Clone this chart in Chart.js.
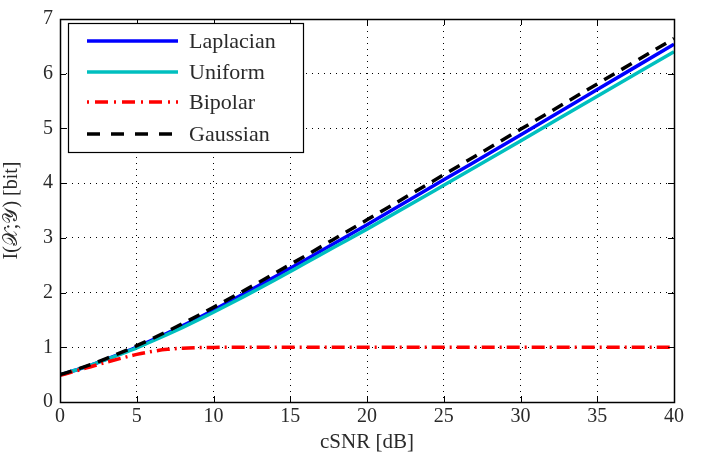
<!DOCTYPE html>
<html>
<head>
<meta charset="utf-8">
<script src="https://cdn.jsdelivr.net/npm/chart.js@4/dist/chart.umd.min.js"></script>
<style>
html,body{margin:0;padding:0;background:#fff;}
#wrap{width:709px;height:460px;}
</style>
</head>
<body>
<div id="wrap"><canvas id="c" width="709" height="460"></canvas></div>
<script>
const cSNR = [0,1,2,3,4,5,6,7,8,9,10,12,14,16,18,20,25,30,35,40];
const laplacian = [0.495,0.58,0.675,0.78,0.89,1.005,1.13,1.26,1.395,1.535,1.68,1.98,2.29,2.60,2.92,3.24,4.06,4.88,5.71,6.54];
const uniform = [0.495,0.58,0.675,0.775,0.88,0.99,1.11,1.235,1.365,1.50,1.64,1.93,2.23,2.54,2.85,3.16,3.96,4.77,5.59,6.40];
const bipolar = [0.486,0.565,0.645,0.725,0.80,0.87,0.925,0.962,0.983,0.994,0.998,1,1,1,1,1,1,1,1,1];
const gaussian = [0.50,0.588,0.685,0.792,0.906,1.029,1.158,1.294,1.435,1.581,1.730,2.037,2.354,2.675,3.001,3.329,4.154,4.983,5.814,6.644];
const xTicks = [0,5,10,15,20,25,30,35,40];
const yTicks = [0,1,2,3,4,5,6,7];
const seriesNames = ['Laplacian','Uniform','Bipolar','Gaussian'];

const FONT = '"Liberation Serif", "DejaVu Serif", serif';
const toPts = ys => cSNR.map((x,i)=>({x:x,y:ys[i]}));

const frameTicks = {
  id:'frameTicks',
  afterDatasetsDraw(chart){
    const ctx = chart.ctx, a = chart.chartArea;
    const xs = chart.scales.x, ys = chart.scales.y;
    ctx.save();
    ctx.strokeStyle = '#000';
    ctx.lineWidth = 1;
    ctx.setLineDash([]);
    ctx.beginPath();
    const L = 6;
    xTicks.forEach(v=>{
      const p = Math.round(xs.getPixelForValue(v))+0.5;
      ctx.moveTo(p,a.bottom); ctx.lineTo(p,a.bottom-L);
      ctx.moveTo(p,a.top); ctx.lineTo(p,a.top+L);
    });
    yTicks.forEach(v=>{
      const p = Math.round(ys.getPixelForValue(v))+0.5;
      ctx.moveTo(a.left,p); ctx.lineTo(a.left+L,p);
      ctx.moveTo(a.right,p); ctx.lineTo(a.right-L,p);
    });
    ctx.stroke();
    ctx.lineWidth = 1.5;
    ctx.strokeRect(Math.round(a.left)+0.5, Math.round(a.top)+0.5, Math.round(a.right-a.left), Math.round(a.bottom-a.top));
    ctx.restore();
  }
};

const boxLegend = {
  id:'boxLegend',
  afterDraw(chart){
    const ctx = chart.ctx;
    const bx = 68, by = 23, bw = 235, bh = 129;
    ctx.save();
    ctx.fillStyle = '#fff';
    ctx.fillRect(bx,by,bw,bh);
    ctx.strokeStyle = '#000';
    ctx.lineWidth = 1.2;
    ctx.setLineDash([]);
    ctx.strokeRect(bx+0.5,by+0.5,bw,bh);
    const rows = [41,72,102,134];
    ctx.font = '22px ' + FONT;
    ctx.textBaseline = 'middle';
    ctx.textAlign = 'left';
    chart.data.datasets.forEach((ds,i)=>{
      const y = rows[i];
      ctx.strokeStyle = ds.borderColor;
      ctx.lineWidth = ds.borderWidth;
      ctx.setLineDash(ds.legendDash || []);
      ctx.beginPath();
      ctx.moveTo(87,y); ctx.lineTo(178,y);
      ctx.stroke();
      ctx.setLineDash([]);
      ctx.fillStyle = '#2a2a2a';
      ctx.fillText(ds.label, 189, y+1);
    });
    ctx.restore();
  }
};

new Chart(document.getElementById('c'), {
  type:'line',
  data:{
    datasets:[
      {label:seriesNames[0], data:toPts(laplacian), borderColor:'#0000ff', borderWidth:3.5, pointRadius:0, order:4, cubicInterpolationMode:'monotone'},
      {label:seriesNames[1], data:toPts(uniform), borderColor:'#00bfbf', borderWidth:3.5, pointRadius:0, order:3, cubicInterpolationMode:'monotone'},
      {label:seriesNames[2], data:toPts(bipolar), borderColor:'#ff0000', borderWidth:3.5, borderDash:[13,5,2,5], legendDash:[2,6,13,6], pointRadius:0, order:2, cubicInterpolationMode:'monotone'},
      {label:seriesNames[3], data:toPts(gaussian), borderColor:'#000000', borderWidth:3.5, borderDash:[12,8], legendDash:[13,11], pointRadius:0, order:1, cubicInterpolationMode:'monotone'}
    ]
  },
  options:{
    responsive:false,
    animation:false,
    layout:{padding:{left:0,right:35,top:12,bottom:0}},
    plugins:{legend:{display:false}, tooltip:{enabled:false}},
    scales:{
      x:{
        type:'linear', min:0, max:40,
        afterBuildTicks(s){ s.ticks = xTicks.map(v=>({value:v})); },
        afterFit(s){ s.height = 58; },
        grid:{color:'#000', lineWidth:1, drawTicks:false},
        border:{display:false, dash:[1,5]},
        ticks:{padding:3, color:'#2a2a2a', font:{family:FONT, size:20}, maxRotation:0},
        title:{display:true, text:'cSNR [dB]', color:'#2a2a2a', font:{family:FONT, size:21}, padding:{top:0,bottom:5}}
      },
      y:{
        type:'linear', min:0, max:7,
        afterBuildTicks(s){ s.ticks = yTicks.map(v=>({value:v})); },
        afterFit(s){ s.width = 60; },
        grid:{color:'#000', lineWidth:1, drawTicks:false},
        border:{display:false, dash:[1,5]},
        ticks:{padding:7, color:'#2a2a2a', font:{family:FONT, size:20}},
        title:{display:true, text:'I(𝒳;𝒴) [bit]', color:'#2a2a2a', font:{family:FONT, size:20, style:'normal'}, padding:{top:0,bottom:0}}
      }
    }
  },
  plugins:[frameTicks, boxLegend]
});
</script>
</body>
</html>
